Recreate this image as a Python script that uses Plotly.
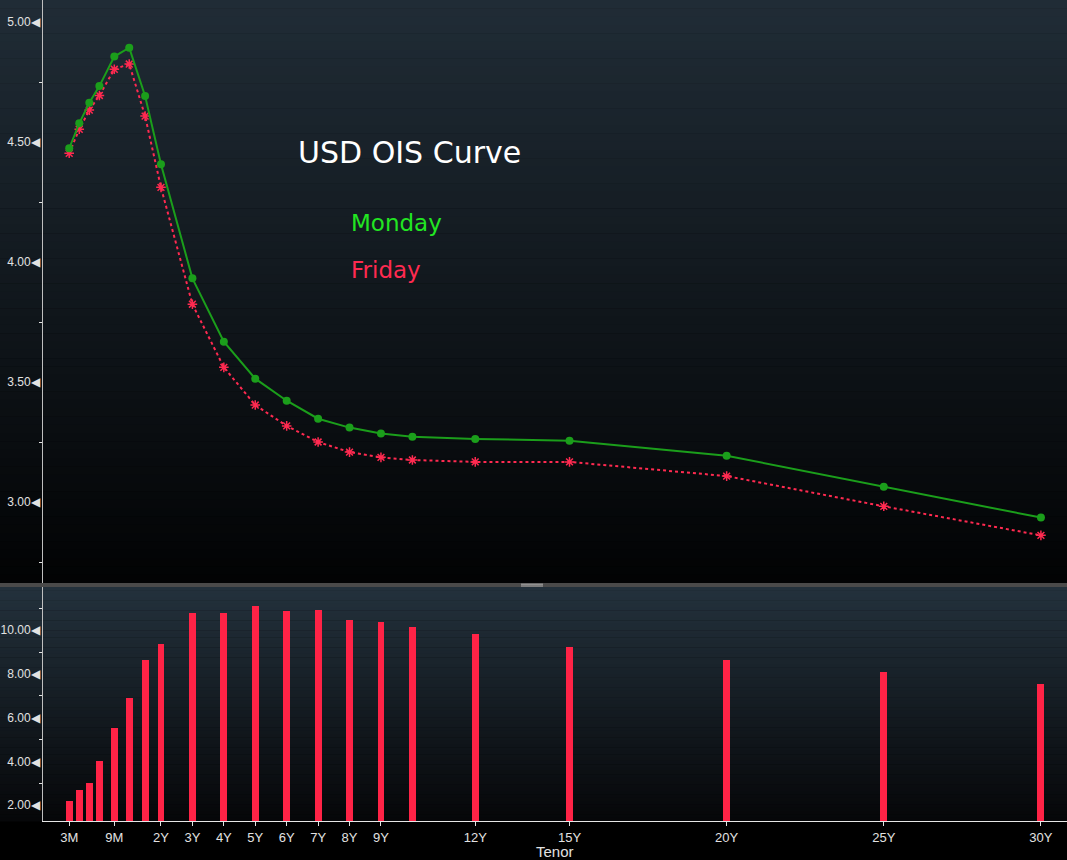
import numpy as np
import plotly.graph_objects as go

# ---------------- data ----------------
tenor_labels = ["3M", "4M", "5M", "6M", "9M", "1Y", "18M", "2Y", "3Y", "4Y", "5Y",
                "6Y", "7Y", "8Y", "9Y", "10Y", "12Y", "15Y", "20Y", "25Y", "30Y"]
tenor_years = [0.25, 1 / 3, 5 / 12, 0.5, 0.75, 1, 1.5, 2, 3, 4, 5,
               6, 7, 8, 9, 10, 12, 15, 20, 25, 30]
monday = [4.474, 4.578, 4.664, 4.733, 4.856, 4.893, 4.692, 4.407, 3.932, 3.668, 3.514,
          3.422, 3.347, 3.310, 3.285, 3.272, 3.263, 3.255, 3.193, 3.064, 2.935]
friday = [4.453, 4.553, 4.633, 4.694, 4.803, 4.825, 4.608, 4.311, 3.824, 3.561, 3.404,
          3.317, 3.250, 3.208, 3.186, 3.175, 3.167, 3.167, 3.108, 2.982, 2.861]
change_bp = [2.21, 2.70, 3.02, 4.03, 5.55, 6.91, 8.65, 9.38, 10.76, 10.76, 11.08,
             10.86, 10.91, 10.45, 10.39, 10.16, 9.84, 9.25, 8.65, 8.07, 7.55]

axis_tick_labels = ["3M", "9M", "2Y", "3Y", "4Y", "5Y", "6Y", "7Y", "8Y", "9Y",
                    "12Y", "15Y", "20Y", "25Y", "30Y"]
axis_tick_years = [0.25, 0.75, 2, 3, 4, 5, 6, 7, 8, 9, 12, 15, 20, 25, 30]

# ---------------- tenor scale (Bloomberg-style compressed short end) ----------------
SCALE_TENOR = [0.25, 0.5, 1, 2, 30]
SCALE_POS = [-0.92, 0.04, 0.99, 2, 30]


def tenor_axis(t):
    return np.interp(np.asarray(t, dtype=float), SCALE_TENOR, SCALE_POS)


x_pos = tenor_axis(tenor_years)
tick_pos = tenor_axis(axis_tick_years)

# ---------------- styling ----------------
W, H = 1067, 860
ML, MB = 43, 39
PH = H - MB           # plot area height in px
PW = W - ML
GREEN_LINE = "#1b9e1b"
GREEN_TEXT = "#22e622"
RED = "#ff2a50"
BAR_RED = "#ff2346"
TICK_COLOR = "#e2e2e2"
FONT = "DejaVu Sans"
TICK_FONT = "Liberation Sans, Arial, sans-serif"


def py(px_from_top):
    return (PH - px_from_top) / PH


top_dom = [py(583), 1.0]
bot_dom = [0.0, py(587)]

fig = go.Figure()

fig.add_trace(go.Scatter(
    x=x_pos, y=friday, mode="lines+markers", name="Friday",
    line=dict(color=RED, width=2, dash="dot"),
    marker=dict(symbol="asterisk-open", size=8, line=dict(color=RED, width=1.5)),
    xaxis="x", yaxis="y"))
fig.add_trace(go.Scatter(
    x=x_pos, y=monday, mode="lines+markers", name="Monday",
    line=dict(color=GREEN_LINE, width=2),
    marker=dict(symbol="circle", size=8, color=GREEN_LINE),
    xaxis="x", yaxis="y"))
fig.add_trace(go.Bar(
    x=x_pos, y=change_bp, width=0.22, marker=dict(color=BAR_RED, line=dict(width=0)),
    xaxis="x2", yaxis="y2"))

# gradient backgrounds via bands
shapes = []


def gradient(y_top_px, y_bot_px, c_top, c_bot, n=70):
    for i in range(n):
        f = i / (n - 1)
        c = [round(a + (b - a) * f) for a, b in zip(c_top, c_bot)]
        y0 = y_top_px + (y_bot_px - y_top_px) * i / n
        y1 = y_top_px + (y_bot_px - y_top_px) * (i + 1) / n
        shapes.append(dict(type="rect", xref="paper", yref="paper",
                           x0=-ML / PW, x1=1.0, y0=py(y1) - 0.0005, y1=py(y0),
                           fillcolor=f"rgb({c[0]},{c[1]},{c[2]})",
                           line=dict(width=0), layer="below"))


gradient(0, 583, (32, 44, 54), (2, 3, 4))
gradient(587, 821, (35, 49, 60), (6, 7, 9))
# divider
shapes.append(dict(type="rect", xref="paper", yref="paper", x0=-ML / PW, x1=1.0,
                   y0=py(587), y1=py(583), fillcolor="#4a4a4a", line=dict(width=0),
                   layer="below"))
for yy in (584.2, 586.0):
    shapes.append(dict(type="line", xref="paper", yref="paper",
                       x0=(521 - ML) / PW, x1=(543 - ML) / PW, y0=py(yy), y1=py(yy),
                       line=dict(color="#b0b0b0", width=1)))

ytickfont = dict(family=TICK_FONT, size=12, color=TICK_COLOR)
xtickfont = dict(family=TICK_FONT, size=13, color=TICK_COLOR)

fig.update_layout(
    width=W, height=H,
    margin=dict(l=ML, r=0, t=0, b=MB, autoexpand=False),
    paper_bgcolor="#000000", plot_bgcolor="rgba(0,0,0,0)",
    showlegend=False, bargap=0,
    font=dict(family=FONT, color=TICK_COLOR),
    shapes=shapes,
    xaxis=dict(domain=[0, 1], anchor="y", range=[-1.754, 30.83], automargin=False,
               showticklabels=False, showline=False, showgrid=False,
               zeroline=False, ticks=""),
    xaxis2=dict(domain=[0, 1], anchor="y2", matches="x", range=[-1.754, 30.83],
                automargin=False,
                tickmode="array", tickvals=tick_pos, ticktext=axis_tick_labels,
                ticks="outside", ticklen=4, tickcolor=TICK_COLOR, tickwidth=1,
                showline=True, linecolor="#e6e6e6", linewidth=1,
                showgrid=False, zeroline=False, tickfont=xtickfont),
    yaxis=dict(domain=top_dom, anchor="x", range=[2.6625, 5.0917], automargin=False,
               tick0=3, dtick=0.5, tickformat=".2f", ticksuffix="\u25c0",
               ticks="", showline=True, linecolor="#bfbfbf", linewidth=1,
               showgrid=False, zeroline=False, tickfont=ytickfont,
               minor=dict(ticks="outside", ticklen=3, dtick=0.25, tick0=3,
                          tickcolor=TICK_COLOR, showgrid=False)),
    yaxis2=dict(domain=bot_dom, anchor="x2", range=[1.28, 11.97], automargin=False,
                tick0=0, dtick=2, tickformat=".2f", ticksuffix="\u25c0",
                ticks="", showline=True, linecolor="#bfbfbf", linewidth=1,
                showgrid=False, zeroline=False, tickfont=ytickfont,
                minor=dict(ticks="outside", ticklen=3, dtick=1, tick0=0,
                           tickcolor=TICK_COLOR, showgrid=False)),
)

fig.add_annotation(text="USD OIS Curve", xref="paper", yref="paper",
                   x=(296 - ML) / PW, y=py(153), xanchor="left", yanchor="middle",
                   showarrow=False, font=dict(family=FONT, size=30, color="#ffffff"))
fig.add_annotation(text="Monday", xref="paper", yref="paper",
                   x=(349 - ML) / PW, y=py(223), xanchor="left", yanchor="middle",
                   showarrow=False, font=dict(family=FONT, size=23, color=GREEN_TEXT))
fig.add_annotation(text="Friday", xref="paper", yref="paper",
                   x=(349 - ML) / PW, y=py(270), xanchor="left", yanchor="middle",
                   showarrow=False, font=dict(family=FONT, size=23, color=RED))
fig.add_annotation(text="Tenor", xref="paper", yref="paper",
                   x=(555 - ML) / PW, y=py(851), xanchor="center", yanchor="middle",
                   showarrow=False, font=dict(family=TICK_FONT, size=15, color=TICK_COLOR))

fig.write_html("out.html", config={"displayModeBar": False},
               post_script="document.body.style.margin='0px';document.body.style.background='#000';")
